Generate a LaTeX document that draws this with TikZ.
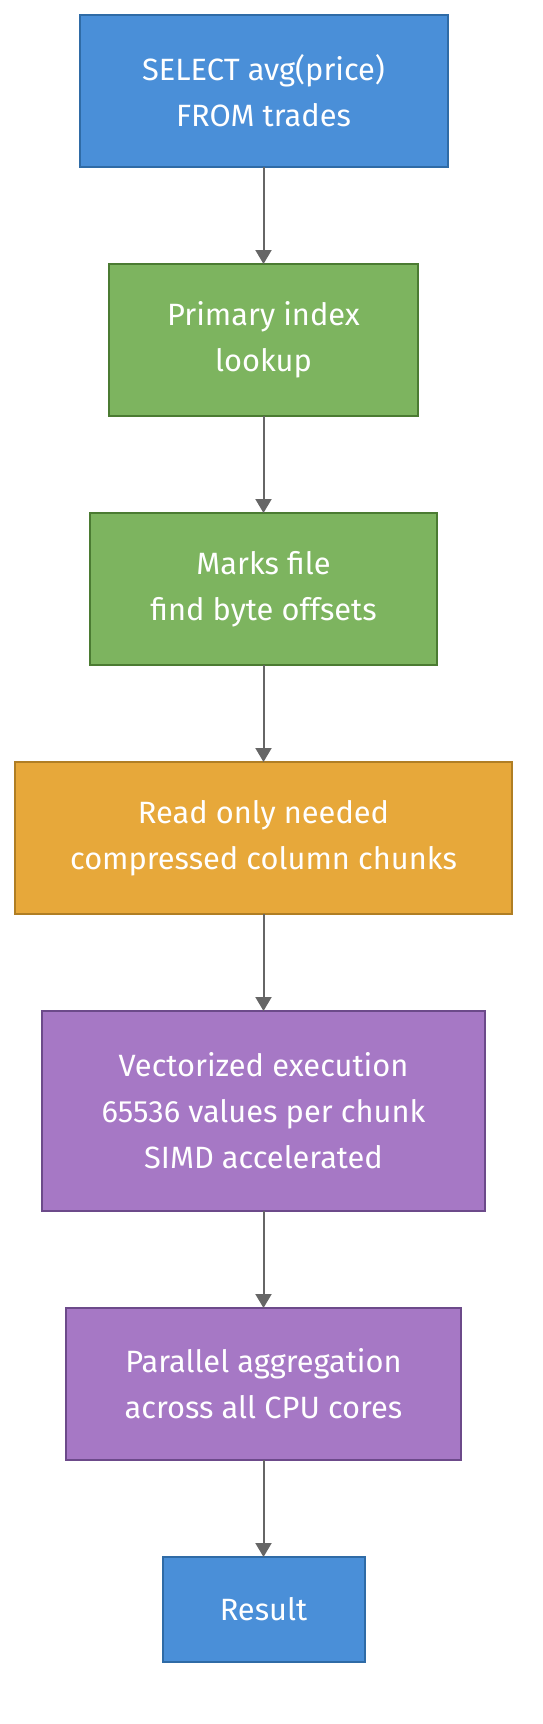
\documentclass[tikz,border=0pt]{standalone}
\usepackage{fontspec}
\setmainfont{Fira Sans}
\usetikzlibrary{positioning,arrows.meta}
\definecolor{queryblue}{HTML}{4A8FD8}
\definecolor{queryline}{HTML}{2F6BA6}
\definecolor{indexgreen}{HTML}{7DB45F}
\definecolor{indexline}{HTML}{4B7B32}
\definecolor{readorange}{HTML}{E7A83A}
\definecolor{readline}{HTML}{B07E24}
\definecolor{execpurple}{HTML}{A678C5}
\definecolor{execline}{HTML}{6C4A8A}
\definecolor{flowgray}{HTML}{666666}

\begin{document}
\begin{tikzpicture}[box/.style={rectangle,draw,line width=1pt,text=white,align=center,outer sep=0pt,minimum height=76pt,font=\fontsize{15.4}{23}\selectfont},
	query/.style={box,fill=queryblue,draw=queryline},
	index/.style={box,fill=indexgreen,draw=indexline},
	readbox/.style={box,fill=readorange,draw=readline},
	exec/.style={box,fill=execpurple,draw=execline},
	flow/.style={draw=flowgray,line width=1pt,-{Triangle[length=7pt,width=8pt]}},
	node distance=48.5pt
]
	\useasboundingbox (0,0) rectangle (271pt,-862pt);
	\node[query,minimum width=184pt] (select) at (131.75pt,-45.5pt) {SELECT avg(price)\\FROM trades};
	\node[index,minimum width=154.5pt,below=of select] (primary) {Primary index\\lookup};
	\node[index,minimum width=173.5pt,below=of primary] (marks) {Marks file\\find byte offsets};
	\node[readbox,minimum width=248.5pt,below=of marks] (chunks) {Read only needed\\compressed column chunks};
	\node[exec,minimum width=221.5pt,minimum height=100pt,below=of chunks] (vector) {Vectorized execution\\65536 values per chunk\\SIMD accelerated};
	\node[exec,minimum width=197.5pt,below=of vector] (parallel) {Parallel aggregation\\across all CPU cores};
	\node[query,minimum width=101pt,minimum height=52.5pt,below=of parallel] (result) {Result};

	\draw[flow] (select) -- (primary);
	\draw[flow] (primary) -- (marks);
	\draw[flow] (marks) -- (chunks);
	\draw[flow] (chunks) -- (vector);
	\draw[flow] (vector) -- (parallel);
	\draw[flow] (parallel) -- (result);
\end{tikzpicture}
\end{document}
